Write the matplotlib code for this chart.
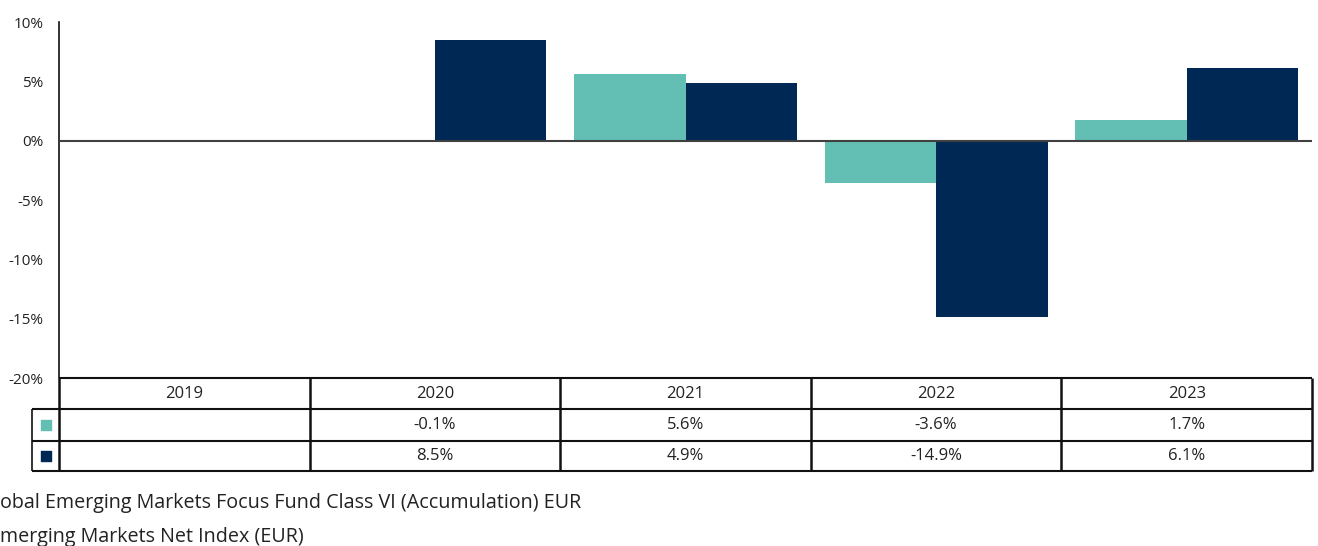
import numpy as np
import matplotlib
matplotlib.use("Agg")
import matplotlib.pyplot as plt

plt.rcParams['font.family'] = ['Open Sans', 'DejaVu Sans']

years = ["2019", "2020", "2021", "2022", "2023"]
fund = [np.nan, -0.1, 5.6, -3.6, 1.7]
index = [np.nan, 8.5, 4.9, -14.9, 6.1]
fund_labels = ["", "-0.1%", "5.6%", "-3.6%", "1.7%"]
index_labels = ["", "8.5%", "4.9%", "-14.9%", "6.1%"]
yticks = [-20, -15, -10, -5, 0, 5, 10]
series_names = ["obal Emerging Markets Focus Fund Class VI (Accumulation) EUR",
                "merging Markets Net Index (EUR)"]

teal = "#63BFB3"
navy = "#002855"
txt = "#222222"

W, H = 1318, 546
fig = plt.figure(figsize=(W / 100, H / 100), dpi=100)

def fx(px):
    return px / W

def fy(py):
    return 1 - py / H

x0, x1 = 59, 1312
ytop, ybot = 22, 378
ax = fig.add_axes([fx(x0), fy(ybot), fx(x1) - fx(x0), fy(ytop) - fy(ybot)])
x = np.arange(len(years))
bw = 0.445
ax.bar(x - bw / 2, fund, bw, color=teal, zorder=2)
ax.bar(x + bw / 2, index, bw, color=navy, zorder=2)
ax.axhline(0, color="#404040", lw=1.5, zorder=3)
ax.set_xlim(-0.5, len(years) - 0.5)
ax.set_ylim(-20, 10)
ax.set_yticks(yticks)
ax.set_yticklabels([f"{t}%" for t in yticks], fontsize=11, color=txt)
ax.set_xticks([])
ax.tick_params(axis='y', length=0, pad=11)
for s in ["top", "right", "bottom"]:
    ax.spines[s].set_visible(False)
ax.spines["left"].set_linewidth(1.2)
ax.spines["left"].set_color("#111111")

# table
tb_top, tb_bot = 378, 471
tax = fig.add_axes([fx(x0), fy(tb_bot), fx(x1) - fx(x0), fy(tb_top) - fy(tb_bot)])
tax.set_xlim(-0.5, len(years) - 0.5)
tax.set_ylim(3, 0)
tax.axis("off")
row_y = [0, 31 / 93 * 3, 63 / 93 * 3, 3]
leg_x = -0.5 - 27 / ((x1 - x0) / len(years))
lc = "#111111"
kw = dict(color=lc, clip_on=False, solid_capstyle="butt")
tax.plot([-0.5, 4.5], [row_y[0]] * 2, lw=1.5, **kw)
tax.plot([leg_x, 4.5], [row_y[1]] * 2, lw=1.5, **kw)
tax.plot([leg_x, 4.5], [row_y[2]] * 2, lw=1.5, **kw)
tax.plot([leg_x, 4.5], [row_y[3]] * 2, lw=1.5, **kw)
for b in np.arange(len(years) + 1) - 0.5:
    tax.plot([b, b], [row_y[0], row_y[3]], lw=1.8, **kw)
tax.plot([leg_x, leg_x], [row_y[1], row_y[3]], lw=1.2, **kw)

for i, yr in enumerate(years):
    tax.text(i, (row_y[0] + row_y[1]) / 2, yr, ha="center", va="center", fontsize=12, color=txt)
    tax.text(i, (row_y[1] + row_y[2]) / 2, fund_labels[i], ha="center", va="center", fontsize=12, color=txt)
    tax.text(i, (row_y[2] + row_y[3]) / 2, index_labels[i], ha="center", va="center", fontsize=12, color=txt)
lx = (leg_x - 0.5) / 2
tax.scatter([lx], [(row_y[1] + row_y[2]) / 2], marker="s", s=55, color=teal, clip_on=False)
tax.scatter([lx], [(row_y[2] + row_y[3]) / 2], marker="s", s=55, color=navy, clip_on=False)

fig.text(fx(0), fy(503), series_names[0], ha="left", va="center", fontsize=14.2, color=txt)
fig.text(fx(0), fy(537), series_names[1], ha="left", va="center", fontsize=14.2, color=txt)

fig.savefig("out.png", dpi=100)
